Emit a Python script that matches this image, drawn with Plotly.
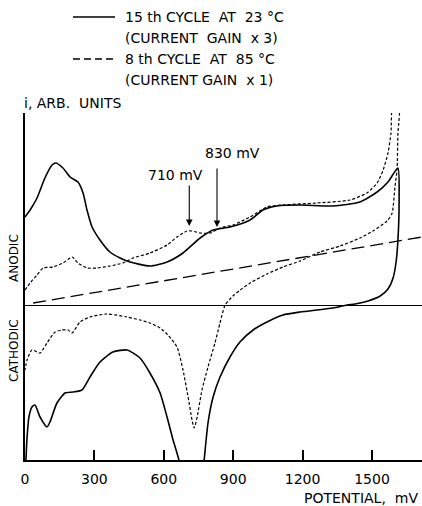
import plotly.graph_objects as go

# ---- data (potential in mV, current in arbitrary units; 0 = zero-current line) ----
solid_anodic_mv = [0, 22, 52, 86, 117, 134, 164, 195, 229, 251, 268, 290, 324, 367, 411, 454,
                   540, 614, 683, 757, 813, 886, 973, 1029, 1089, 1189, 1331, 1448, 1522, 1569, 1612]
solid_anodic_i = [88, 95, 107, 127, 140, 142, 137, 128, 123, 112, 95, 78, 65, 53, 47, 43,
                  39, 43, 52, 67, 75, 78, 85, 95, 99, 100, 99, 103, 113, 123, 137]
solid_cathodic_mv = [1617, 1612, 1604, 1591, 1569, 1535, 1483, 1427, 1392, 1331, 1189, 1115, 1046,
                     986, 929, 886, 843, 813, 791, 774, 757, 735, 710, 690, 666, 640, 614, 584,
                     540, 497, 441, 380, 324, 281, 246, 208, 173, 138, 108, 95, 65, 43, 30, 17, 9, 4, 0]
solid_cathodic_i = [105, 65, 43, 27, 16, 9, 4, 1, 0, -3, -7, -10, -17,
                    -25, -37, -52, -72, -92, -118, -156, -195, -230, -240, -220, -156, -135, -112, -88,
                    -68, -53, -45, -47, -57, -72, -85, -87, -88, -98, -117, -122, -112, -100, -102,
                    -112, -132, -155, -175]

dashed_anodic_mv = [0, 22, 52, 78, 121, 164, 204, 229, 268, 311, 368, 424, 467, 540, 614, 657,
                    700, 722, 757, 800, 843, 899, 973, 1046, 1115, 1262, 1405, 1478, 1522, 1548,
                    1569, 1582, 1590]
dashed_anodic_i = [15, 22, 30, 37, 38, 42, 48, 42, 37, 37, 39, 42, 47, 52, 60, 68,
                   74, 74, 72, 72, 77, 80, 88, 98, 100, 102, 105, 112, 122, 135,
                   152, 172, 200]
dashed_cathodic_mv = [1617, 1612, 1608, 1599, 1587, 1565, 1504, 1448, 1362, 1275, 1189, 1115, 1046,
                      973, 930, 899, 865, 843, 821, 791, 765, 744, 731, 722, 705, 683, 657, 618,
                      584, 540, 497, 441, 354, 281, 238, 203, 186, 160, 130, 95, 65, 30, 9, 0]
dashed_cathodic_i = [200, 172, 135, 118, 92, 84, 74, 67, 59, 53, 44, 38, 31,
                     22, 15, 9, 0, -18, -38, -62, -85, -112, -123, -115, -92, -65, -42, -30,
                     -23, -18, -15, -12, -9, -12, -17, -28, -25, -25, -27, -38, -48, -45, -55, -65]

baseline_mv = [35, 1716]
baseline_i = [2, 68]

x_ticks = [0, 300, 600, 900, 1200, 1500]
peak_labels = [(710, 79, "710 mV"), (830, 78, "830 mV")]

FONT = "DejaVu Sans"
BLACK = "black"

fig = go.Figure()
fig.add_trace(go.Scatter(x=solid_anodic_mv + solid_cathodic_mv, y=solid_anodic_i + solid_cathodic_i,
                         mode="lines", line=dict(color=BLACK, width=1.6, shape="spline", smoothing=0.6),
                         showlegend=False))
fig.add_trace(go.Scatter(x=dashed_anodic_mv + dashed_cathodic_mv, y=dashed_anodic_i + dashed_cathodic_i,
                         mode="lines", line=dict(color=BLACK, width=1.2, dash="3px,2px", shape="spline", smoothing=0.6),
                         showlegend=False))
fig.add_trace(go.Scatter(x=baseline_mv, y=baseline_i, mode="lines",
                         line=dict(color=BLACK, width=1.3, dash="13px,6px"), showlegend=False))

W, H = 422, 506
L, R, T, B = 25, 0, 113, 46
pw, ph = W - L - R, H - T - B


def px(xp):
    return (xp - L) / pw


def py(yp):
    return (H - B - yp) / ph


# legend samples
fig.add_shape(type="line", xref="paper", yref="paper", x0=px(73), x1=px(115), y0=py(17), y1=py(17),
              line=dict(color=BLACK, width=1.4))
fig.add_shape(type="line", xref="paper", yref="paper", x0=px(73), x1=px(115), y0=py(59), y1=py(59),
              line=dict(color=BLACK, width=1.4, dash="7px,4px"))

ann = []
legend_lines = [("15 th CYCLE  AT  23 °C", 17), ("(CURRENT  GAIN  x 3)", 38),
                ("8 th CYCLE  AT  85 °C", 59), ("(CURRENT GAIN  x 1)", 80)]
for t, yy in legend_lines:
    ann.append(dict(text=t, x=px(123), y=py(yy), xref="paper", yref="paper", xanchor="left",
                    yanchor="middle", showarrow=False, font=dict(size=14, family=FONT, color=BLACK)))
ann.append(dict(text="i, ARB.  UNITS", x=px(22), y=py(103), xref="paper", yref="paper", xanchor="left",
                yanchor="middle", showarrow=False, font=dict(size=14, family=FONT, color=BLACK)))
ann.append(dict(text="POTENTIAL,  mV", x=px(420), y=py(498), xref="paper", yref="paper", xanchor="right",
                yanchor="middle", showarrow=False, font=dict(size=14, family=FONT, color=BLACK)))
ann.append(dict(text="ANODIC", x=px(14), y=py(258), xref="paper", yref="paper", textangle=-90,
                xanchor="center", yanchor="middle", showarrow=False, font=dict(size=12, family=FONT, color=BLACK)))
ann.append(dict(text="CATHODIC", x=px(14), y=py(351), xref="paper", yref="paper", textangle=-90,
                xanchor="center", yanchor="middle", showarrow=False, font=dict(size=12, family=FONT, color=BLACK)))

# peak arrows and labels
arrow_len = {710: 42, 830: 60}
label_pos = {710: (175, 175), 830: (232, 153)}
for xv, yv, t in peak_labels:
    ann.append(dict(text="", x=xv, y=yv, xref="x", yref="y", showarrow=True, ax=0, ay=-arrow_len[xv],
                    arrowhead=2, arrowsize=1.2, arrowwidth=1.1, arrowcolor=BLACK))
    lx, ly = label_pos[xv]
    ann.append(dict(text=t, x=px(lx), y=py(ly), xref="paper", yref="paper", xanchor="center",
                    yanchor="middle", showarrow=False, font=dict(size=14, family=FONT, color=BLACK)))

fig.update_layout(
    width=W, height=H, margin=dict(l=L, r=R, t=T, b=B, pad=0),
    paper_bgcolor="white", plot_bgcolor="white", showlegend=False,
    annotations=ann,
    xaxis=dict(range=[0, 1716], showgrid=False, zeroline=False, showline=True, linecolor=BLACK,
               linewidth=2, ticks="inside", ticklen=10, tickwidth=1.5, tickcolor=BLACK,
               tickvals=x_ticks, ticktext=[str(v) for v in x_ticks], ticklabelstandoff=5,
               tickfont=dict(size=14, family=FONT, color=BLACK)),
    yaxis=dict(range=[-155, 192], showgrid=False, showticklabels=False, ticks="",
               zeroline=True, zerolinecolor=BLACK, zerolinewidth=1.2,
               showline=True, linecolor=BLACK, linewidth=2),
)

fig.write_html("out.html")
